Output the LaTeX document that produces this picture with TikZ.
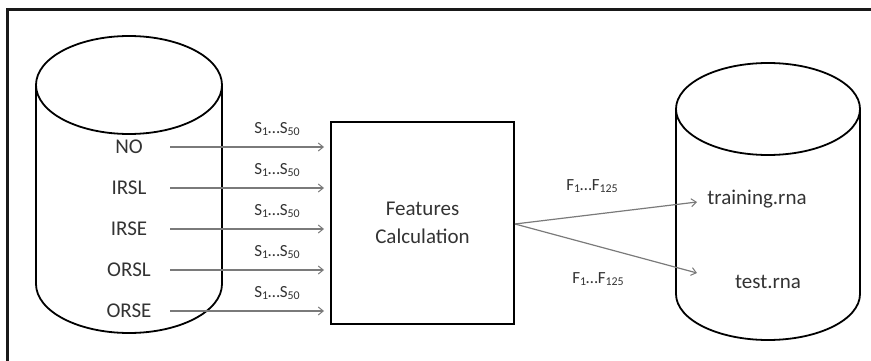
\documentclass[tikz,border=0pt]{standalone}
\usepackage{fontspec}
\setmainfont{Carlito}
\usetikzlibrary{arrows.meta}
\newcommand{\mysub}[1]{\raisebox{-0.25ex}{\scalebox{0.7}{#1}}}
\begin{document}
\begin{tikzpicture}[x=1pt,y=1pt,
  shapeline/.style={draw=black,line width=1.8pt},
  flow/.style={draw=black!52,line width=1.2pt,-{Straight Barb[length=5pt,width=8pt,line width=1pt]}},
  lbl/.style={font=\fontsize{21}{25}\selectfont,text=black!80,inner sep=0pt},
  sublbl/.style={font=\fontsize{17}{19}\selectfont,text=black!80,inner sep=0pt},
  framebar/.style={draw=black!90,line width=3pt}]
\useasboundingbox (0,0) rectangle (871,-361);
% frame
\coordinate (fl) at (7.5,-365);
\coordinate (fcorner) at (7.5,-10);
\coordinate (fr) at (875,-10);
\draw[framebar] (fl) -- (fcorner) -- (fr);
% left cylinder
\draw[shapeline] (36,-85) arc[start angle=180,end angle=0,x radius=93,y radius=49]
  arc[start angle=0,end angle=-180,x radius=93,y radius=49] -- cycle;
\draw[shapeline] (36,-85) -- (36,-284) arc[start angle=180,end angle=360,x radius=93,y radius=49] -- (222,-85);
% right cylinder
\draw[shapeline] (676,-109) arc[start angle=180,end angle=0,x radius=92,y radius=46]
  arc[start angle=0,end angle=-180,x radius=92,y radius=46] -- cycle;
\draw[shapeline] (676,-109) -- (676,-294) arc[start angle=180,end angle=360,x radius=92,y radius=46] -- (860,-109);
% box
\node[shapeline,minimum width=183pt,minimum height=202pt,inner sep=0pt,
  align=center,font=\fontsize{21}{28}\selectfont,text=black!80] (calc) at (422.5,-223) {Features\\Calculation};
% left labels and arrows
\foreach \name/\txt/\yy in {no/NO/147,irsl/IRSL/188,irse/IRSE/229,orsl/ORSL/270,orse/ORSE/311}{
  \node[lbl] (\name) at (129,-\yy) {\txt};
  \coordinate (\name s) at (170,-\yy);
  \coordinate (\name e) at (324,-\yy);
  \draw[flow] (\name s) -- (\name e);
  \node[sublbl] (\name l) at (277,-\yy+18) {S\mysub{1}…S\mysub{50}};
}
% right
\coordinate (fo) at (515,-224);
\coordinate (tr) at (697,-202);
\coordinate (te) at (697,-273);
\draw[flow] (fo) -- (tr);
\draw[flow] (fo) -- (te);
\node[sublbl] (f1) at (592,-186) {F\mysub{1}…F\mysub{125}};
\node[sublbl] (f2) at (598,-279) {F\mysub{1}…F\mysub{125}};
\node[lbl] (train) at (757,-199) {training.rna};
\node[lbl] (test) at (768,-282) {test.rna};
\end{tikzpicture}
\end{document}
